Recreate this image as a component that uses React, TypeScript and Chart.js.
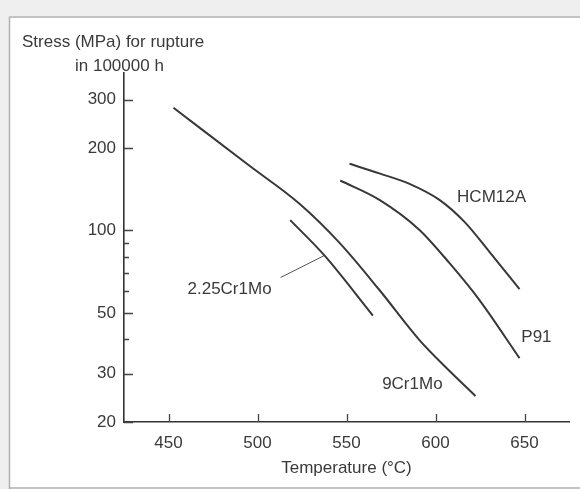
import React, { useEffect, useRef } from "react";
import { Chart, registerables } from "chart.js";

Chart.register(...registerables);

// Temperature (°C) and stress (MPa)
const t9Cr1Mo = [452.8, 495.5, 523.6, 546.1, 568.5, 591, 607.9, 622.5];
const s9Cr1Mo = [280, 172, 125, 90, 60.6, 39.8, 30.7, 24.9];

const t225Cr1Mo = [518.4, 537.6, 564.8];
const s225Cr1Mo = [109, 81, 48.9];

const tHCM12A = [551.7, 568.5, 585.4, 602.2, 616.3, 630.3, 647.2];
const sHCM12A = [175, 161.4, 147.8, 129.2, 107.4, 83.5, 61];

const tP91 = [546.5, 568.5, 591, 607.9, 624.7, 647.2];
const sP91 = [152, 129.2, 100.4, 75.9, 55.7, 34.2];

// leader line from the "2.25Cr1Mo" label to its curve
const tLeader = [513, 537.6];
const sLeader = [67.3, 81];

const xTicks = [450, 500, 550, 600, 650];
const yTicks = [20, 30, 50, 100, 200, 300];
const yMinorTicks = [40, 60, 70, 80, 90];

const seriesLabels = ["9Cr1Mo", "2.25Cr1Mo", "HCM12A", "P91"];
const labelX = [587, 484.3, 631.5, 656.7];
const labelY = [27.5, 61.1, 132.5, 40.9];

const yTitleLines = ["Stress (MPa) for rupture", "in 100000 h"];
const xTitle = "Temperature (°C)";

const FONT = '"Liberation Sans", Arial, Helvetica, sans-serif';
const INK = "#3a3a3a";
const LINE = "#383838";

const pts = (xs: number[], ys: number[]) => xs.map((x, i) => ({ x, y: ys[i] }));

export default function App() {
  const ref = useRef<HTMLCanvasElement | null>(null);

  useEffect(() => {
    if (!ref.current) return;

    const decor = {
      id: "decor",
      beforeDraw(chart: any) {
        const ctx = chart.ctx;
        ctx.save();
        ctx.fillStyle = "#ffffff";
        ctx.fillRect(0, 0, chart.width, chart.height);
        // scanned page border
        ctx.fillStyle = "#efefef";
        ctx.fillRect(0, 0, chart.width, 16);
        ctx.fillRect(0, 0, 9, chart.height);
        ctx.strokeStyle = "#b0b0b0";
        ctx.lineWidth = 1.5;
        ctx.beginPath();
        ctx.moveTo(9, 17);
        ctx.lineTo(chart.width, 17);
        ctx.moveTo(9.5, 17);
        ctx.lineTo(9.5, chart.height);
        ctx.moveTo(9, 488);
        ctx.lineTo(chart.width, 488);
        ctx.stroke();
        ctx.restore();
      },
      afterDraw(chart: any) {
        const ctx = chart.ctx;
        const xs = chart.scales.x;
        const ys = chart.scales.y;
        const area = chart.chartArea;
        ctx.save();
        ctx.strokeStyle = "#444";
        ctx.lineWidth = 1.3;
        ctx.beginPath();
        xTicks.forEach((v) => {
          const px = Math.round(xs.getPixelForValue(v)) + 0.5;
          ctx.moveTo(px, area.bottom);
          ctx.lineTo(px, area.bottom - 8);
        });
        yTicks.forEach((v) => {
          const py = Math.round(ys.getPixelForValue(v)) + 0.5;
          ctx.moveTo(area.left, py);
          ctx.lineTo(area.left + 9, py);
        });
        yMinorTicks.forEach((v) => {
          const py = Math.round(ys.getPixelForValue(v)) + 0.5;
          ctx.moveTo(area.left, py);
          ctx.lineTo(area.left + 5, py);
        });
        ctx.stroke();

        ctx.fillStyle = INK;
        ctx.font = `17px ${FONT}`;
        ctx.textBaseline = "middle";
        ctx.textAlign = "left";
        ctx.fillText(yTitleLines[0], 22, 42);
        ctx.fillText(yTitleLines[1], 75, 66);

        ctx.textAlign = "center";
        seriesLabels.forEach((s, i) => {
          ctx.fillText(s, xs.getPixelForValue(labelX[i]), ys.getPixelForValue(labelY[i]));
        });
        ctx.restore();
      },
    };

    const lineDs = (label: string, xsArr: number[], ysArr: number[], width = 2) => ({
      label,
      data: pts(xsArr, ysArr),
      borderColor: LINE,
      borderWidth: width,
      pointRadius: 0,
      fill: false,
      cubicInterpolationMode: "monotone" as const,
    });

    const chart = new Chart(ref.current, {
      type: "line",
      data: {
        datasets: [
          lineDs("9Cr1Mo", t9Cr1Mo, s9Cr1Mo),
          lineDs("2.25Cr1Mo", t225Cr1Mo, s225Cr1Mo),
          lineDs("HCM12A", tHCM12A, sHCM12A),
          lineDs("P91", tP91, sP91),
          { ...lineDs("leader", tLeader, sLeader, 1), borderColor: "#555" },
        ],
      },
      plugins: [decor],
      options: {
        responsive: false,
        animation: false,
        parsing: true,
        layout: { padding: { top: 73, right: 11, left: 0, bottom: 0 } },
        plugins: {
          legend: { display: false },
          tooltip: { enabled: false },
          title: { display: false },
        },
        scales: {
          x: {
            type: "linear",
            min: 425,
            max: 675,
            afterBuildTicks: (scale: any) => {
              scale.ticks = xTicks.map((v) => ({ value: v }));
            },
            afterFit: (scale: any) => {
              scale.height = 67;
            },
            grid: { display: false, drawTicks: false },
            border: { display: true, color: "#333", width: 1.6 },
            ticks: {
              color: INK,
              font: { family: FONT, size: 17 },
              padding: 11,
              maxRotation: 0,
              autoSkip: false,
              callback: (v: any) => String(v),
            },
            title: {
              display: true,
              text: xTitle,
              color: INK,
              font: { family: FONT, size: 17 },
              padding: { top: 4, bottom: 10 },
            },
          },
          y: {
            type: "logarithmic",
            min: 20,
            max: 375,
            afterBuildTicks: (scale: any) => {
              scale.ticks = yTicks.map((v) => ({ value: v }));
            },
            afterFit: (scale: any) => {
              scale.width = 124;
            },
            grid: { display: false, drawTicks: false },
            border: { display: true, color: "#333", width: 1.6 },
            ticks: {
              color: INK,
              font: { family: FONT, size: 17 },
              padding: 8,
              autoSkip: false,
              callback: (v: any) => String(v),
            },
          },
        },
      } as any,
    });

    return () => chart.destroy();
  }, []);

  return (
    <div style={{ position: "fixed", left: 0, top: 0, width: 580, height: 489, background: "#fff" }}>
      <canvas ref={ref} width={580} height={489} style={{ width: 580, height: 489, display: "block" }} />
    </div>
  );
}
